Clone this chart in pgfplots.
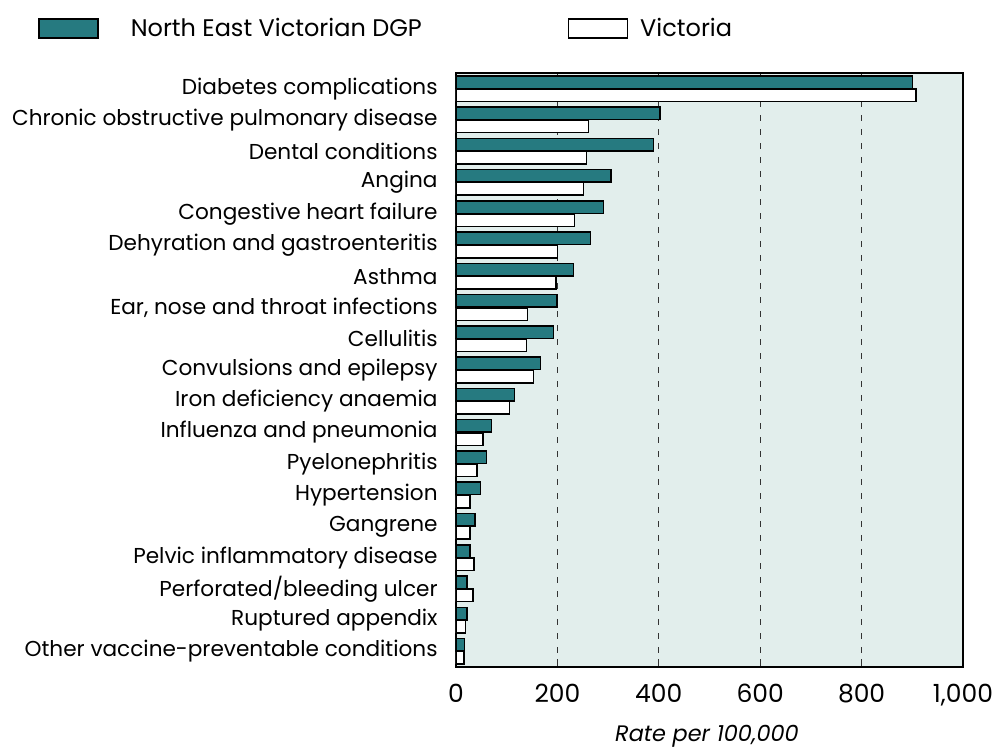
\documentclass[border=0pt]{standalone}
\usepackage{pgfplots}
\pgfplotsset{compat=1.18}
\usepackage{fontspec}
\setmainfont{Poppins}
\definecolor{tealbar}{HTML}{267A80}
\definecolor{bgfill}{HTML}{E2EEEC}
\definecolor{gridc}{HTML}{333333}
\begin{document}
\begin{tikzpicture}
\useasboundingbox (-228pt,-41pt) rectangle (271.5pt,333.5pt);
\begin{axis}[
  at={(0,0)}, anchor=south west,
  scale only axis, width=253.5pt, height=297pt,
  xmin=0, xmax=1000, ymin=-0.5, ymax=18.5, y dir=reverse,
  axis background/.style={fill=bgfill},
  axis line style={black, line width=0.7pt},
  xtick={0,200,400,600,800,1000},
  /pgf/number format/assume math mode=true,
  /pgf/number format/1000 sep={,},
  xtick pos=left, tick align=inside,
  major tick length=4pt,
  x tick style={gridc, line width=0.6pt},
  xmajorgrids,
  grid style={gridc, line width=0.6pt, dash pattern=on 3pt off 4pt},
  xticklabel style={font=\fontsize{12.5}{15}\selectfont, anchor=base, yshift=-17.5pt},
  ytick={0,...,18},
  yticklabels={Diabetes complications, Chronic obstructive pulmonary disease, Dental conditions, Angina, Congestive heart failure, Dehyration and gastroenteritis, Asthma, {Ear, nose and throat infections}, Cellulitis, Convulsions and epilepsy, Iron deficiency anaemia, Influenza and pneumonia, Pyelonephritis, Hypertension, Gangrene, Pelvic inflammatory disease, Perforated/bleeding ulcer, Ruptured appendix, Other vaccine-preventable conditions},
  y tick style={draw=none},
  yticklabel style={font=\fontsize{10.8}{12}\selectfont, anchor=east, inner sep=0pt, xshift=-9pt},
  xlabel={Rate per 100,000},
  xlabel style={font=\fontsize{11.2}{13}\selectfont\itshape, at={(axis description cs:0.495,0)}, anchor=base, yshift=-37pt},
  legend style={at={(axis description cs:-0.8245,1.1),}, anchor=north west, draw=none, fill=none, inner sep=0pt,
     font=\fontsize{12}{14}\selectfont, legend columns=2,
     /tikz/column 1/.style={column sep=14pt},
     /tikz/column 2/.style={column sep=71pt},
     /tikz/column 3/.style={column sep=4pt}},
  legend image code/.code={\draw[#1, line width=0.7pt] (0pt,-4.75pt) rectangle (29.5pt,4.75pt);},
]
\addplot[xbar, bar width=0.4, bar shift=-0.21, fill=tealbar, draw=black, line width=0.75pt]
  coordinates {(900,0) (402,1) (390,2) (306,3) (291,4) (265,5) (232,6) (199,7) (192,8) (167,9)
               (115,10) (70,11) (60,12) (48,13) (37,14) (28,15) (22,16) (22,17) (17,18)};
\addlegendentry{North East Victorian DGP}
\addplot[xbar, bar width=0.4, bar shift=0.21, fill=white, draw=black, line width=0.75pt]
  coordinates {(907,0) (261,1) (257,2) (251,3) (234,4) (200,5) (197,6) (141,7) (139,8) (153,9)
               (106,10) (53,11) (41,12) (28,13) (28,14) (36,15) (34,16) (19,17) (16,18)};
\addlegendentry{Victoria}
\end{axis}
\end{tikzpicture}
\end{document}
